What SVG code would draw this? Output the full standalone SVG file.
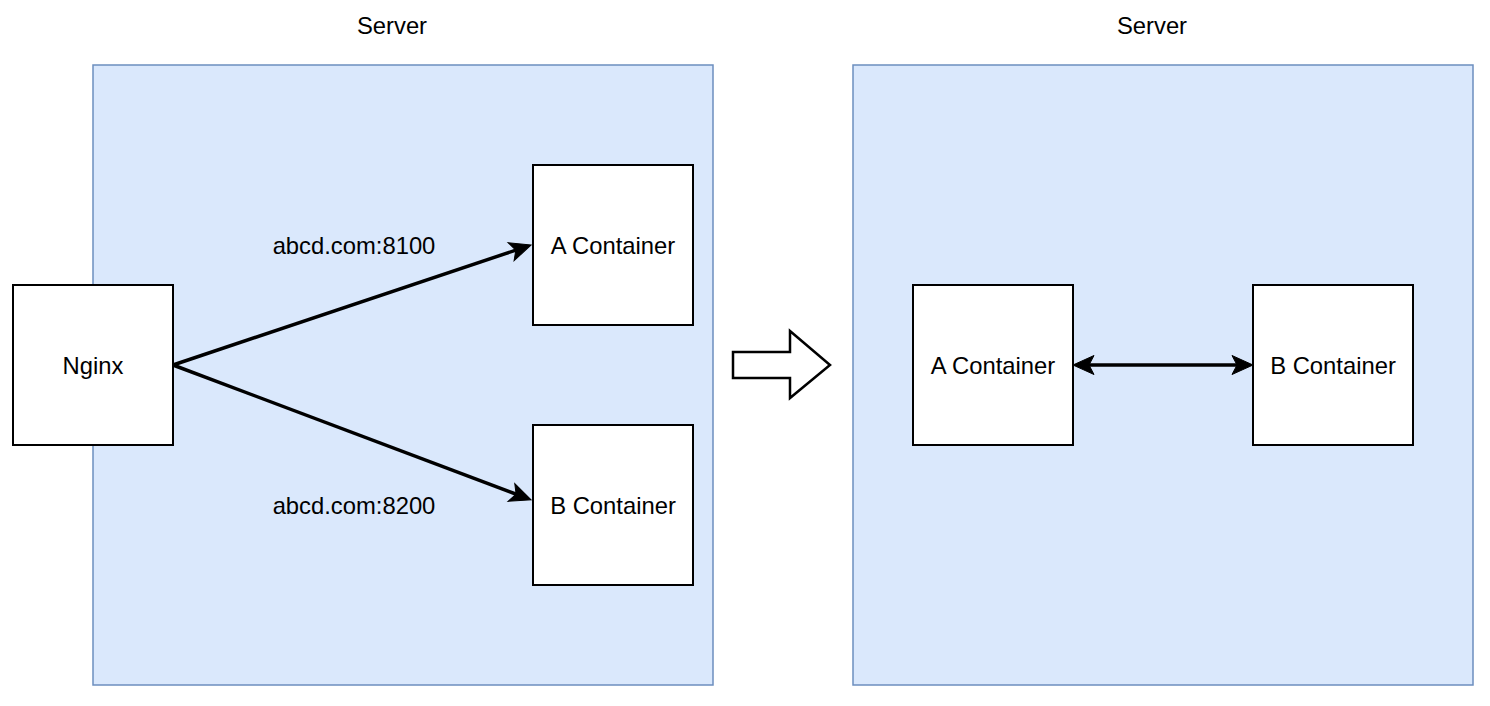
<svg xmlns="http://www.w3.org/2000/svg" width="1490" height="706" viewBox="0 0 1490 706">
<style>
.server{fill:#dae8fc;stroke:#6c8ebf;stroke-width:1.5}
.box{fill:#ffffff;stroke:#000000;stroke-width:2}
.t{font-family:"Liberation Sans",Arial,sans-serif;font-size:23.8px;fill:#000000;text-anchor:middle;dominant-baseline:central}
.edge{stroke:#000000;stroke-width:3.5;fill:none}
</style>
<defs>
<marker id="arr" markerUnits="userSpaceOnUse" orient="auto" overflow="visible" refX="0" refY="0">
<path d="M8,0 L-13,-9.5 L-8,0 L-13,9.5 Z" fill="#000000" stroke="#000000" stroke-width="1"/>
</marker>
<marker id="arrS" markerUnits="userSpaceOnUse" orient="auto-start-reverse" overflow="visible" refX="0" refY="0">
<path d="M8,0 L-13,-9.5 L-8,0 L-13,9.5 Z" fill="#000000" stroke="#000000" stroke-width="1"/>
</marker>
</defs>
<g id="server-left">
<rect class="server" x="93" y="65" width="620" height="620"/>
<text class="t" x="392" y="25">Server</text>
</g>
<g id="server-right">
<rect class="server" x="853" y="65" width="620" height="620"/>
<text class="t" x="1152" y="25">Server</text>
</g>
<g id="connectors">
<line class="edge" x1="173" y1="365" x2="523.4" y2="247.6" marker-end="url(#arr)"/>
<line class="edge" x1="173" y1="365" x2="523.6" y2="497" marker-end="url(#arr)"/>
<line class="edge" x1="1081" y1="365" x2="1245" y2="365" marker-start="url(#arrS)" marker-end="url(#arrS)"/>
<text class="t" x="354" y="245">abcd.com:8100</text>
<text class="t" x="354" y="505">abcd.com:8200</text>
</g>
<g id="nginx">
<rect class="box" x="13" y="285" width="160" height="160"/>
<text class="t" x="93" y="365">Nginx</text>
</g>
<g id="a-container-left">
<rect class="box" x="533" y="165" width="160" height="160"/>
<text class="t" x="613" y="245">A Container</text>
</g>
<g id="b-container-left">
<rect class="box" x="533" y="425" width="160" height="160"/>
<text class="t" x="613" y="505">B Container</text>
</g>
<g id="transition-arrow">
<polygon points="733,352 790,352 790,331 830,365 790,398 790,378 733,378" fill="#ffffff" stroke="#000000" stroke-width="2.5"/>
</g>
<g id="a-container-right">
<rect class="box" x="913" y="285" width="160" height="160"/>
<text class="t" x="993" y="365">A Container</text>
</g>
<g id="b-container-right">
<rect class="box" x="1253" y="285" width="160" height="160"/>
<text class="t" x="1333" y="365">B Container</text>
</g>
</svg>
